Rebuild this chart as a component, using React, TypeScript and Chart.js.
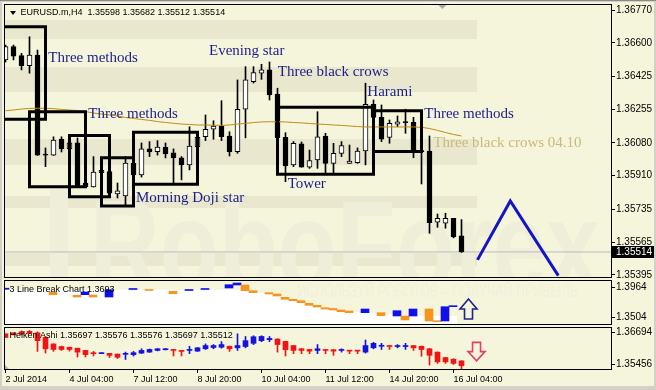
import React, { useEffect, useRef } from 'react';
import { Chart, registerables } from 'chart.js';

Chart.register(...registerables);

const SANS = '"Liberation Sans", Arial, sans-serif';
const SERIF = '"Liberation Serif", "Times New Roman", serif';

// ---------- main chart (EURUSD H4), one value per bar ----------
const candleOpen = [1.36511,1.36580,1.36533,1.36481,1.36536,1.36017,1.36017,1.36100,1.36049,1.36080,1.35871,1.35851,1.35926,1.35931,1.35815,1.35805,1.35976,1.35914,1.36049,1.36035,1.36059,1.36028,1.36003,1.35966,1.36061,1.36112,1.36151,1.36168,1.36116,1.36035,1.36255,1.36398,1.36442,1.36459,1.36334,1.36109,1.35966,1.36075,1.35954,1.35992,1.36116,1.35974,1.36026,1.35974,1.35977,1.36038,1.36281,1.36213,1.36109,1.36177,1.36187,1.36187,1.36038,1.36038,1.35668,1.35663,1.35688,1.35598];
const candleHigh = [1.36588,1.36588,1.36545,1.36631,1.36562,1.36054,1.36112,1.36112,1.36085,1.36106,1.35871,1.36009,1.35940,1.35976,1.35872,1.36009,1.35992,1.36080,1.36087,1.36092,1.36080,1.36049,1.36009,1.36164,1.36138,1.36225,1.36195,1.36299,1.36138,1.36407,1.36476,1.36476,1.36488,1.36500,1.36364,1.36133,1.36087,1.36085,1.36043,1.36242,1.36130,1.36078,1.36087,1.36069,1.36054,1.36390,1.36303,1.36277,1.36199,1.36220,1.36255,1.36213,1.36040,1.36116,1.35711,1.35715,1.35688,1.35682];
const candleLow = [1.36500,1.36511,1.36459,1.36442,1.36015,1.35957,1.36015,1.36033,1.36043,1.35851,1.35851,1.35851,1.35919,1.35819,1.35794,1.35758,1.35903,1.35903,1.36009,1.36017,1.36002,1.35872,1.35888,1.35940,1.36054,1.36092,1.36099,1.36092,1.36012,1.36026,1.36106,1.36391,1.36410,1.36303,1.36107,1.35879,1.35957,1.35954,1.35948,1.35948,1.35922,1.35919,1.36009,1.35974,1.35974,1.35966,1.36208,1.36087,1.36078,1.36164,1.36130,1.36003,1.35867,1.35611,1.35642,1.35637,1.35587,1.35512];
const candleClose = [1.36580,1.36531,1.36481,1.36536,1.36017,1.36020,1.36095,1.36049,1.36080,1.35853,1.35853,1.35929,1.35938,1.35819,1.35831,1.35976,1.35914,1.36049,1.36033,1.36059,1.36023,1.36002,1.35966,1.36064,1.36109,1.36151,1.36168,1.36112,1.36035,1.36255,1.36407,1.36445,1.36459,1.36329,1.36107,1.35960,1.36078,1.35954,1.35988,1.36112,1.35974,1.36026,1.36066,1.35986,1.36038,1.36281,1.36213,1.36100,1.36182,1.36189,1.36185,1.36038,1.36035,1.35666,1.35689,1.35689,1.35592,1.35514];
const maValues = [1.36247,1.36251,1.36256,1.36259,1.36260,1.36260,1.36258,1.36254,1.36251,1.36248,1.36243,1.36235,1.36230,1.36225,1.36220,1.36212,1.36207,1.36202,1.36197,1.36191,1.36186,1.36182,1.36178,1.36176,1.36173,1.36173,1.36172,1.36171,1.36173,1.36178,1.36181,1.36186,1.36189,1.36190,1.36190,1.36189,1.36186,1.36184,1.36181,1.36178,1.36176,1.36173,1.36171,1.36168,1.36165,1.36163,1.36163,1.36163,1.36163,1.36163,1.36163,1.36163,1.36161,1.36155,1.36145,1.36134,1.36124,1.36116];
const priceTicks = [1.36770,1.36600,1.36425,1.36255,1.36080,1.35910,1.35735,1.35565,1.35395];

// pattern rectangles (bar index from/to, price top/bottom)
const boxFrom = [-1, 3, 8, 12, 16, 34, 46];
const boxTo = [5, 10, 13, 16, 24, 46, 52];
const boxTop = [1.36683, 1.36242, 1.36118, 1.36003, 1.36135, 1.36265, 1.36247];
const boxBottom = [1.36203, 1.35853, 1.35801, 1.35753, 1.35865, 1.35917, 1.36035];

// pattern labels
const labelTexts = ['Three methods','Evening star','Three black crows','Three methods','Morning Doji star','Tower','Harami','Three methods','Three black crows 04.10'];
const labelBars = [5.35, 25.44, 34.03, 10.35, 16.31, 35.28, 45.23, 52.35, 53.48];
const labelPrices = [1.36502, 1.36536, 1.36427, 1.36211, 1.35772, 1.35848, 1.36325, 1.36208, 1.36061];
const labelColors = ['#1c1c8a','#1c1c8a','#1c1c8a','#1c1c8a','#1c1c8a','#1c1c8a','#1c1c8a','#1c1c8a','#c9b97a'];

// forecast zigzag
const zigzagBars = [59, 63.1, 69.1];
const zigzagPrices = [1.35473, 1.35779, 1.35391];

// ---------- 3 Line Break panel ----------
const lbBars = [0,6,9,10,11,13,16,18,21,23,25,28,29,30,31,33,34,35,36,37,38,39,40,41,42,43,45,47,49,50,51,53,54,55,56];
const lbTop = [1.39504,1.38929,1.38430,1.38929,1.38475,1.39277,1.39458,1.39307,1.39035,1.39307,1.39458,1.40033,1.40291,1.39988,1.39126,1.38823,1.38626,1.38127,1.37824,1.37613,1.37219,1.36917,1.36554,1.36432,1.36206,1.36054,1.36357,1.35797,1.36100,1.35298,1.36357,1.36357,1.34541,1.36705,1.36856];
const lbBottom = [1.39337,1.38520,1.38172,1.38520,1.38172,1.38172,1.39307,1.39156,1.38672,1.39156,1.39307,1.39534,1.39988,1.39126,1.38823,1.38626,1.38324,1.37824,1.37613,1.37310,1.36917,1.36659,1.36357,1.36206,1.35948,1.35797,1.35797,1.35343,1.35298,1.34693,1.35298,1.34541,1.34435,1.34541,1.36705];
const lbColor = ['b','o','o','b','o','b','b','o','o','b','b','b','b','o','o','o','o','o','o','o','o','o','o','o','o','o','b','o','b','o','b','o','o','b','b'];
const lbFillTop = [1.39277,1.39277,1.39277,1.39277,1.39277,1.39277,1.39277,1.39277,1.39277,1.39277,1.39277,1.39277,1.39277,1.39277,1.39277,1.39277,1.39277,1.39277,1.39277,1.39277,1.39277,1.39277,1.39277,1.39277,1.39277,1.39277,1.39277,1.39277,1.39277,1.39277,1.39232,1.39005,1.38823,1.38702,1.38475,1.38097,1.37794,1.37492,1.37189,1.36886,1.36584,1.36357,1.36130,1.35979,1.35903,1.35827,1.35752,1.35676,1.35600,1.35525,1.35449,1.35404,1.35343,1.35298,1.35298,1.35298,1.35298];
const lbTicks = [1.3964, 1.3504];
const upArrowBar = 57.94, upArrowTop = 1.37870, upArrowBottom = 1.34844;

// ---------- Heiken Ashi panel ----------
const haOpen = [1.36645,1.36683,1.36721,1.36740,1.36683,1.36504,1.36253,1.36151,1.36124,1.36086,1.35999,1.35896,1.35874,1.35885,1.35858,1.35847,1.35836,1.35896,1.35934,1.35999,1.36026,1.36037,1.35999,1.35999,1.35972,1.36064,1.36113,1.36124,1.36162,1.36102,1.36151,1.36276,1.36379,1.36417,1.36443,1.36352,1.36189,1.36064,1.36037,1.35999,1.36037,1.36026,1.35999,1.35999,1.35999,1.35934,1.36102,1.36162,1.36189,1.36151,1.36151,1.36189,1.36162,1.36064,1.35934,1.35722,1.35657,1.35593];
const haHigh = [1.36645,1.36683,1.36759,1.36778,1.36721,1.36531,1.36253,1.36170,1.36124,1.36086,1.35999,1.35961,1.35896,1.35885,1.35858,1.35934,1.35961,1.36064,1.36056,1.36075,1.36075,1.36037,1.35999,1.36162,1.36113,1.36253,1.36227,1.36341,1.36170,1.36645,1.36542,1.36569,1.36569,1.36542,1.36455,1.36360,1.36189,1.36075,1.36037,1.36227,1.36037,1.36037,1.36064,1.35999,1.35999,1.36405,1.36314,1.36276,1.36189,1.36227,1.36276,1.36189,1.36170,1.36075,1.35942,1.35733,1.35676,1.35600];
const haLow = [1.36493,1.36607,1.36607,1.36664,1.35961,1.35896,1.35961,1.35999,1.35972,1.35745,1.35745,1.35783,1.35874,1.35722,1.35684,1.35646,1.35783,1.35874,1.35923,1.35980,1.36018,1.35783,1.35783,1.35874,1.35961,1.36037,1.36064,1.36086,1.35961,1.35999,1.36102,1.36227,1.36341,1.36341,1.35934,1.35783,1.35874,1.35874,1.35874,1.35874,1.35874,1.35809,1.35934,1.35874,1.35874,1.35896,1.36064,1.36037,1.36037,1.36102,1.36037,1.35999,1.35771,1.35429,1.35494,1.35494,1.35456,1.35277];
const haClose = [1.36504,1.36607,1.36633,1.36664,1.36379,1.36064,1.36037,1.36037,1.36037,1.35934,1.35836,1.35874,1.35896,1.35809,1.35733,1.35885,1.35912,1.35999,1.36037,1.36064,1.36064,1.35999,1.35961,1.36037,1.36102,1.36189,1.36189,1.36227,1.36064,1.36189,1.36379,1.36531,1.36542,1.36466,1.36227,1.36026,1.35999,1.35999,1.35972,1.36064,1.35999,1.35972,1.36037,1.35972,1.35972,1.36189,1.36276,1.36189,1.36151,1.36189,1.36170,1.36102,1.36037,1.35809,1.35555,1.35555,1.35494,1.35403];
const haTicks = [1.36694, 1.35456];
const downArrowBar = 58.88, downArrowTop = 1.36314, downArrowBottom = 1.35593;

// ---------- time axis ----------
const xTickBars = [0, 8, 16, 24, 32, 40, 48, 56];
const xTickLabels = ['2 Jul 2014','4 Jul 04:00','7 Jul 12:00','8 Jul 20:00','10 Jul 04:00','11 Jul 12:00','14 Jul 20:00','16 Jul 04:00'];

// ---------- helpers ----------
const PLOT_W = 606; // chart area width in px (5..611)
const BAR_PX = 8;
const MAIN_XMIN = -0.0625;
const MAIN_XMAX = MAIN_XMIN + PLOT_W / BAR_PX;
const LB_XMIN = 0;
const LB_XMAX = LB_XMIN + PLOT_W / BAR_PX;

function rightAxis(min: number, max: number, ticks: number[], digits: number) {
  return {
    type: 'linear', position: 'right', min, max, beginAtZero: false,
    afterFit: (s: any) => { s.width = 45; },
    afterBuildTicks: (s: any) => { s.ticks = ticks.map((v) => ({ value: v })); },
    ticks: {
      autoSkip: false, padding: 1, color: '#000',
      font: { family: SANS, size: 10, lineHeight: 0.2 },
      callback: (v: any) => Number(v).toFixed(digits),
    },
    grid: { drawOnChartArea: false, drawTicks: true, tickLength: 4, color: '#000', tickColor: '#000' },
    border: { display: false },
  };
}
function hiddenX(min: number, max: number) {
  return { type: 'linear', min, max, display: false, offset: false, grid: { offset: false } };
}
function drawBorder(chart: any) {
  const { ctx, chartArea: a } = chart;
  ctx.save();
  ctx.strokeStyle = '#000';
  ctx.lineWidth = 1;
  ctx.strokeRect(a.left - 0.5, a.top - 0.5, a.right - a.left + 1, a.bottom - a.top + 1);
  ctx.restore();
}
function clipArea(ctx: any, a: any) {
  ctx.beginPath();
  ctx.rect(a.left, a.top, a.right - a.left, a.bottom - a.top);
  ctx.clip();
}
const baseOptions = {
  responsive: false, animation: false, devicePixelRatio: 1, events: [],
  plugins: { legend: { display: false }, tooltip: { enabled: false } },
};

// ---------- main chart ----------
function buildMain() {
  const bars = candleOpen.map((_, i) => i);
  const last = candleClose.length - 1;
  const datasets: any[] = [
    {
      type: 'line', order: 9, clip: 0,
      data: [{ x: MAIN_XMIN, y: candleClose[last] }, { x: MAIN_XMAX, y: candleClose[last] }],
      borderColor: '#b9b9c8', borderWidth: 1, pointRadius: 0,
    },
    {
      type: 'bar', order: 8, grouped: false, barThickness: 1, minBarLength: 1,
      data: bars.map((i) => ({ x: i, y: [candleLow[i], candleHigh[i]] })),
      backgroundColor: '#000',
    },
    {
      type: 'bar', order: 7, grouped: false, barThickness: 5, minBarLength: 1,
      data: bars.map((i) => ({ x: i, y: [candleOpen[i], candleClose[i]] })),
      backgroundColor: bars.map((i) => (candleClose[i] - candleOpen[i] > 0.00004 ? '#ffffff' : '#000000')),
      borderColor: '#000', borderWidth: 1, borderSkipped: false,
    },
    {
      type: 'line', order: 6, clip: 0,
      data: maValues.map((v, i) => ({ x: i, y: v })),
      borderColor: '#c08a12', borderWidth: 1, pointRadius: 0,
    },
  ];
  boxFrom.forEach((f, k) => {
    const t = boxTo[k];
    datasets.push({
      type: 'line', order: 3, clip: 0,
      data: [
        { x: f, y: boxTop[k] }, { x: t, y: boxTop[k] }, { x: t, y: boxBottom[k] },
        { x: f, y: boxBottom[k] }, { x: f, y: boxTop[k] },
      ],
      borderColor: '#000', borderWidth: 3, pointRadius: 0,
      borderCapStyle: 'square', borderJoinStyle: 'miter',
    });
  });
  datasets.push({
    type: 'line', order: 2, clip: 0,
    data: zigzagBars.map((b, k) => ({ x: b, y: zigzagPrices[k] })),
    borderColor: '#1414c8', borderWidth: 3, pointRadius: 0,
  });

  const deco = {
    id: 'mainDeco',
    beforeDatasetsDraw(chart: any) {
      const { ctx, chartArea: a } = chart;
      ctx.save();
      clipArea(ctx, a);
      ctx.fillStyle = '#e9e8cf';
      [[20, 39], [67, 92], [139, 165], [196, 208], [253, 266]].forEach(([y0, y1]) =>
        ctx.fillRect(a.left, y0, 477 - a.left, y1 - y0));
      ctx.fillStyle = '#efeed8';
      ctx.fillRect(50, 187, 18, 100);
      ctx.font = `bold 128px ${SANS}`;
      const w = ctx.measureText('RoboForex').width;
      ctx.translate(90, 290);
      ctx.scale(510 / w, 1);
      ctx.textBaseline = 'alphabetic';
      ctx.fillText('RoboForex', 0, 0);
      ctx.restore();
    },
    afterDatasetsDraw(chart: any) {
      const { ctx, chartArea: a, scales } = chart;
      ctx.save();
      clipArea(ctx, a);
      ctx.font = `15px ${SERIF}`;
      ctx.textBaseline = 'alphabetic';
      ctx.textAlign = 'left';
      labelTexts.forEach((t, k) => {
        ctx.fillStyle = labelColors[k];
        ctx.fillText(t, scales.x.getPixelForValue(labelBars[k]), scales.y.getPixelForValue(labelPrices[k]));
      });
      ctx.fillStyle = '#000';
      ctx.beginPath(); ctx.moveTo(10, 11); ctx.lineTo(16, 11); ctx.lineTo(13, 15); ctx.closePath(); ctx.fill();
      ctx.font = `9px ${SANS}`;
      ctx.textBaseline = 'middle';
      const hdr = `EURUSD.m,H4  ${candleOpen[last].toFixed(5)} ${candleHigh[last].toFixed(5)} ${candleLow[last].toFixed(5)} ${candleClose[last].toFixed(5)}`;
      ctx.fillText(hdr, 20.5, 13);
      // chart shift marker
      ctx.fillStyle = '#a8a8a8';
      const sx = scales.x.getPixelForValue(54.6);
      ctx.beginPath(); ctx.moveTo(sx - 4, a.top); ctx.lineTo(sx + 4, a.top); ctx.lineTo(sx, a.top + 4); ctx.closePath(); ctx.fill();
      ctx.restore();
    },
    afterDraw(chart: any) {
      drawBorder(chart);
      const { ctx, chartArea: a, scales } = chart;
      const py = Math.round(scales.y.getPixelForValue(candleClose[last]));
      ctx.save();
      ctx.fillStyle = '#000';
      ctx.fillRect(a.right, py - 6, 43, 12);
      ctx.fillStyle = '#fff';
      ctx.font = `10px ${SANS}`;
      ctx.textBaseline = 'middle';
      ctx.fillText(candleClose[last].toFixed(5), a.right + 5, py);
      ctx.restore();
    },
  };

  return {
    type: 'bar',
    data: { datasets },
    options: {
      ...baseOptions,
      layout: { padding: { left: 5, right: 0, top: 5, bottom: 2 } },
      scales: { x: hiddenX(MAIN_XMIN, MAIN_XMAX), y: rightAxis(1.35384, 1.36796, priceTicks, 5) },
    },
    plugins: [deco],
  };
}

// ---------- 3 line break ----------
function buildLb() {
  const fillData = lbFillTop.map((v, i) => ({ x: i, y: v }));
  fillData.push({ x: lbFillTop.length - 0.5, y: lbFillTop[lbFillTop.length - 1] });
  const datasets: any[] = [
    {
      type: 'line', order: 9, clip: 0, data: fillData, stepped: 'middle', fill: 'start',
      backgroundColor: '#ffffff', borderWidth: 0, pointRadius: 0,
    },
    {
      type: 'bar', order: 2, grouped: false, barThickness: 8, minBarLength: 1,
      data: lbBars.map((b, k) => ({ x: b, y: [lbBottom[k], lbTop[k]] })),
      backgroundColor: lbColor.map((c) => (c === 'b' ? '#1010e8' : '#f7941d')),
    },
  ];
  const deco = {
    id: 'lbDeco',
    beforeDatasetsDraw(chart: any) {
      const { ctx, chartArea: a } = chart;
      ctx.save();
      clipArea(ctx, a);
      ctx.fillStyle = '#f0efdb';
      ctx.font = `19px ${SANS}`;
      const txt = 'ИСПОЛЬЗУЙ РОБОТОВ – ПОЛУЧАЙ ПРИБЫЛЬ';
      const w = ctx.measureText(txt).width;
      ctx.translate(297, a.top + 16);
      ctx.scale(281 / w, 1);
      ctx.fillText(txt, 0, 0);
      ctx.restore();
    },
    afterDatasetsDraw(chart: any) {
      const { ctx, chartArea: a, scales } = chart;
      ctx.save();
      ctx.fillStyle = '#000';
      ctx.font = `9px ${SANS}`;
      ctx.textBaseline = 'middle';
      ctx.fillText('3 Line Break Chart 1.3693', a.left + 4.5, a.top + 8.5);
      const cx = scales.x.getPixelForValue(upArrowBar);
      const top = scales.y.getPixelForValue(upArrowTop);
      const bot = scales.y.getPixelForValue(upArrowBottom);
      const hh = (bot - top) * 0.5;
      ctx.beginPath();
      ctx.moveTo(cx, top); ctx.lineTo(cx + 8.5, top + hh); ctx.lineTo(cx + 4, top + hh);
      ctx.lineTo(cx + 4, bot); ctx.lineTo(cx - 4, bot); ctx.lineTo(cx - 4, top + hh);
      ctx.lineTo(cx - 8.5, top + hh); ctx.closePath();
      ctx.strokeStyle = '#22228e'; ctx.lineWidth = 1.6; ctx.stroke();
      ctx.restore();
    },
    afterDraw: drawBorder,
  };
  return {
    type: 'bar',
    data: { datasets },
    options: {
      ...baseOptions,
      layout: { padding: { left: 5, right: 0, top: 2, bottom: 2 } },
      scales: { x: hiddenX(LB_XMIN, LB_XMAX), y: rightAxis(1.34087, 1.40593, lbTicks, 4) },
    },
    plugins: [deco],
  };
}

// ---------- heiken ashi ----------
function buildHa() {
  const bars = haOpen.map((_, i) => i);
  const col = bars.map((i) => (haClose[i] >= haOpen[i] ? '#1414dc' : '#f01414'));
  const datasets: any[] = [
    {
      type: 'bar', order: 3, grouped: false, barThickness: 1, minBarLength: 1,
      data: bars.map((i) => ({ x: i, y: [haLow[i], haHigh[i]] })), backgroundColor: col,
    },
    {
      type: 'bar', order: 2, grouped: false, barThickness: 5, minBarLength: 1,
      data: bars.map((i) => ({ x: i, y: [haOpen[i], haClose[i]] })), backgroundColor: col,
    },
  ];
  const deco = {
    id: 'haDeco',
    afterDatasetsDraw(chart: any) {
      const { ctx, chartArea: a, scales } = chart;
      ctx.save();
      ctx.fillStyle = '#000';
      ctx.font = `9px ${SANS}`;
      ctx.textBaseline = 'middle';
      ctx.fillText('Heiken Ashi 1.35697 1.35576 1.35576 1.35697 1.35512', a.left + 4.5, a.top + 8);
      const cx = scales.x.getPixelForValue(downArrowBar);
      const top = scales.y.getPixelForValue(downArrowTop);
      const bot = scales.y.getPixelForValue(downArrowBottom);
      const hh = (bot - top) * 0.5;
      ctx.beginPath();
      ctx.moveTo(cx, bot); ctx.lineTo(cx + 8.5, bot - hh); ctx.lineTo(cx + 4, bot - hh);
      ctx.lineTo(cx + 4, top); ctx.lineTo(cx - 4, top); ctx.lineTo(cx - 4, bot - hh);
      ctx.lineTo(cx - 8.5, bot - hh); ctx.closePath();
      ctx.strokeStyle = '#e0406c'; ctx.lineWidth = 1.6; ctx.stroke();
      ctx.fillStyle = '#b0b0b0';
      ctx.beginPath(); ctx.moveTo(a.left, a.bottom); ctx.lineTo(a.left + 4, a.bottom); ctx.lineTo(a.left, a.bottom - 4); ctx.closePath(); ctx.fill();
      ctx.restore();
    },
    afterDraw: drawBorder,
  };
  return {
    type: 'bar',
    data: { datasets },
    options: {
      ...baseOptions,
      layout: { padding: { left: 5, right: 0, top: 1, bottom: 0 } },
      scales: {
        x: {
          type: 'linear', position: 'bottom', min: MAIN_XMIN, max: MAIN_XMAX, offset: false,
          afterFit: (s: any) => { s.height = 21; },
          afterBuildTicks: (s: any) => { s.ticks = xTickBars.map((v) => ({ value: v })); },
          ticks: {
            autoSkip: false, maxRotation: 0, minRotation: 0, align: 'start', padding: 1, color: '#000',
            font: { family: SANS, size: 9 },
            callback: (_v: any, i: number) => xTickLabels[i],
          },
          grid: { offset: false, drawOnChartArea: false, drawTicks: true, tickLength: 4, color: '#000', tickColor: '#000' },
          border: { display: false },
        },
        y: rightAxis(1.35277, 1.36872, haTicks, 5),
      },
    },
    plugins: [deco],
  };
}

export default function App() {
  const mainRef = useRef<HTMLCanvasElement>(null);
  const lbRef = useRef<HTMLCanvasElement>(null);
  const haRef = useRef<HTMLCanvasElement>(null);

  useEffect(() => {
    document.body.style.margin = '0';
    const charts = [
      new Chart(mainRef.current as HTMLCanvasElement, buildMain() as any),
      new Chart(lbRef.current as HTMLCanvasElement, buildLb() as any),
      new Chart(haRef.current as HTMLCanvasElement, buildHa() as any),
    ];
    return () => { charts.forEach((c) => c.destroy()); };
  }, []);

  return (
    <div style={{ position: 'fixed', left: 0, top: 0, width: 656, height: 390, background: '#d4d0c8', overflow: 'hidden' }}>
      <div style={{ position: 'absolute', left: 0, top: 0, width: 656, height: 1, background: '#8a8a8a' }} />
      <div style={{ position: 'absolute', left: 2, top: 2, width: 652, height: 384, background: '#f5f5dc' }} />
      <canvas ref={mainRef} width={656} height={279} style={{ position: 'absolute', left: 0, top: 0, width: 656, height: 279 }} />
      <canvas ref={lbRef} width={656} height={47} style={{ position: 'absolute', left: 0, top: 279, width: 656, height: 47 }} />
      <canvas ref={haRef} width={656} height={64} style={{ position: 'absolute', left: 0, top: 326, width: 656, height: 64 }} />
    </div>
  );
}
